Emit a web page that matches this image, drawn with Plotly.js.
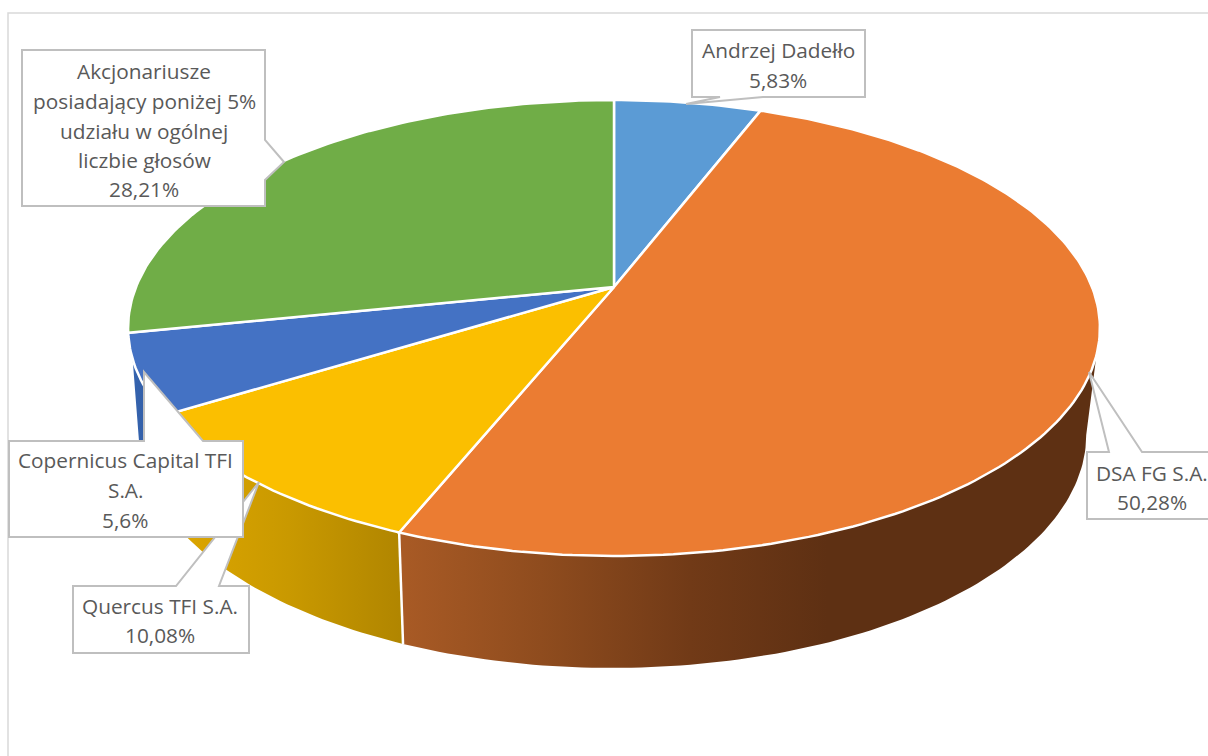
<!DOCTYPE html>
<html>
<head>
<meta charset="utf-8">
<script src="https://cdn.plot.ly/plotly-3.0.1.min.js"></script>
<style>html,body{margin:0;padding:0;background:#fff;overflow:hidden}</style>
</head>
<body>
<div id="chart" style="width:1208px;height:756px"></div>
<script>
// ---- data ----
const categories = ["Andrzej Dadełło", "DSA FG S.A.", "Quercus TFI S.A.", "Copernicus Capital TFI S.A.", "Akcjonariusze posiadający poniżej 5% udziału w ogólnej liczbie głosów"];
const shares = [5.83, 50.28, 10.08, 5.6, 28.21];
const sliceColors = ["#5B9BD5", "#EB7C32", "#FBBF00", "#4472C4", "#70AD47"];
const labelLines = [
  ["Andrzej Dadełło", "5,83%"],
  ["DSA FG S.A.", "50,28%"],
  ["Quercus TFI S.A.", "10,08%"],
  ["Copernicus Capital TFI", "S.A.", "5,6%"],
  ["Akcjonariusze", "posiadający poniżej 5%", "udziału w ogólnej", "liczbie głosów", "28,21%"]
];

// ---- layout of the drawing (pixel-scaled axes) ----
const labelX = [778, 1152, 160, 125, 144];
const labelY = [[50, 80], [473, 502], [606, 635], [460, 490, 520], [71, 101, 131, 160, 189]];
const calloutPaths = [
  [[692,30],[865,30],[865,97],[763,97],[686,104],[720,97],[692,97]],
  [[1087,452],[1109,452],[1089,372],[1142,452],[1230,452],[1230,519],[1087,519]],
  [[73,586],[176,586],[259,482],[219,586],[249,586],[249,653],[73,653]],
  [[9,441],[144,441],[144,372],[203,441],[243,441],[243,537],[9,537]],
  [[22,50],[265,50],[265,140],[284,162],[265,180],[265,206],[22,206]]
];
const silhouetteRight = {top: 107, bottom: 100.4};
const silhouetteLeft = {top: 252, bottom: 259.6};
const wallGradients = [
  null,
  {start: 404, stop: 1086, colorscale: [[0,"#A85A25"],[0.2,"#8F4C1E"],[0.42,"#713A17"],[0.62,"#5E3013"],[1,"#5E3013"]]},
  {start: 174, stop: 404, colorscale: [[0,"#DDA600"],[0.5,"#C99900"],[1,"#B08500"]]},
  {start: 130, stop: 180, colorscale: [[0,"#3564B0"],[1,"#2F5597"]]},
  null
];

// ---- projection of the tilted disc ----
const k = 0.1798;
const topRim = {cx: 614, cy: 287, a: 478, b: 220.6};
const bottomRim = {cx: 612.5, cy: 393, a: 466, b: 225.5};
function pt(deg, r) {
  const t = deg * Math.PI / 180, X = Math.sin(t), Y = Math.cos(t), w = 1 + k * Y;
  return [r.cx + r.a * X / w, r.cy - r.b * Y / w];
}
const top_ = d => pt(d, topRim), bot = d => pt(d, bottomRim);
function arc(fn, a, b) {
  const out = [], n = Math.max(2, Math.ceil(Math.abs(b - a)));
  for (let i = 0; i <= n; i++) out.push(fn(a + (b - a) * i / n));
  return out;
}

const total = shares.reduce((a, b) => a + b, 0);
let acc = 0;
const bounds = shares.map(v => { const a = acc / total * 360; acc += v; return [a, acc / total * 360]; });

const traces = [];
// side walls
bounds.forEach(([a, b], i) => {
  if (!wallGradients[i]) return;
  const ta = Math.max(a, silhouetteRight.top), tb = Math.min(b, silhouetteLeft.top);
  const ba = Math.max(a, silhouetteRight.bottom), bb = Math.min(b, silhouetteLeft.bottom);
  const poly = arc(top_, ta, tb).concat(arc(bot, bb, ba));
  poly.push(poly[0]);
  const g = wallGradients[i];
  traces.push({type: "scatter", mode: "lines", x: poly.map(p => p[0]), y: poly.map(p => p[1]),
    fill: "toself", line: {width: 0, color: g.colorscale[0][1]},
    fillgradient: {type: "horizontal", start: g.start, stop: g.stop, colorscale: g.colorscale},
    hoverinfo: "skip", showlegend: false});
});
// wall divider
const dA = top_(bounds[1][1]), dB = bot(bounds[1][1]);
traces.push({type: "scatter", mode: "lines", x: [dA[0], dB[0]], y: [dA[1], dB[1]],
  line: {color: "#FFFFFF", width: 2.5}, hoverinfo: "skip", showlegend: false});
// top slices
bounds.forEach(([a, b], i) => {
  const poly = [[topRim.cx, topRim.cy]].concat(arc(top_, a, b));
  poly.push([topRim.cx, topRim.cy]);
  traces.push({type: "scatter", mode: "lines", name: categories[i], x: poly.map(p => p[0]), y: poly.map(p => p[1]),
    fill: "toself", fillcolor: sliceColors[i], line: {color: "#FFFFFF", width: 2.5},
    text: categories[i], hoverinfo: "text", showlegend: false});
});

const shapes = [
  {type: "path", xref: "x", yref: "y", path: "M8,756 L8,13 L1208,13", line: {color: "#D9D9D9", width: 1.5}, layer: "above"}
];
calloutPaths.forEach(p => {
  shapes.push({type: "path", xref: "x", yref: "y", layer: "above",
    path: "M" + p.map(q => q.join(",")).join(" L") + " Z",
    fillcolor: "#FFFFFF", line: {color: "#BFBFBF", width: 2}});
});
const annotations = [];
labelLines.forEach((lines, i) => lines.forEach((txt, j) => annotations.push({
  xref: "x", yref: "y", x: labelX[i], y: labelY[i][j], text: txt, showarrow: false,
  xanchor: "center", yanchor: "middle", font: {family: "Open Sans, sans-serif", size: 20.8, color: "#595959"}
})));

Plotly.newPlot("chart", traces, {
  width: 1208, height: 756, margin: {l: 0, r: 0, t: 0, b: 0},
  paper_bgcolor: "#FFFFFF", plot_bgcolor: "#FFFFFF",
  xaxis: {range: [0, 1208], visible: false, fixedrange: true},
  yaxis: {range: [756, 0], visible: false, fixedrange: true},
  shapes, annotations, showlegend: false
}, {displayModeBar: false});
</script>
</body>
</html>
